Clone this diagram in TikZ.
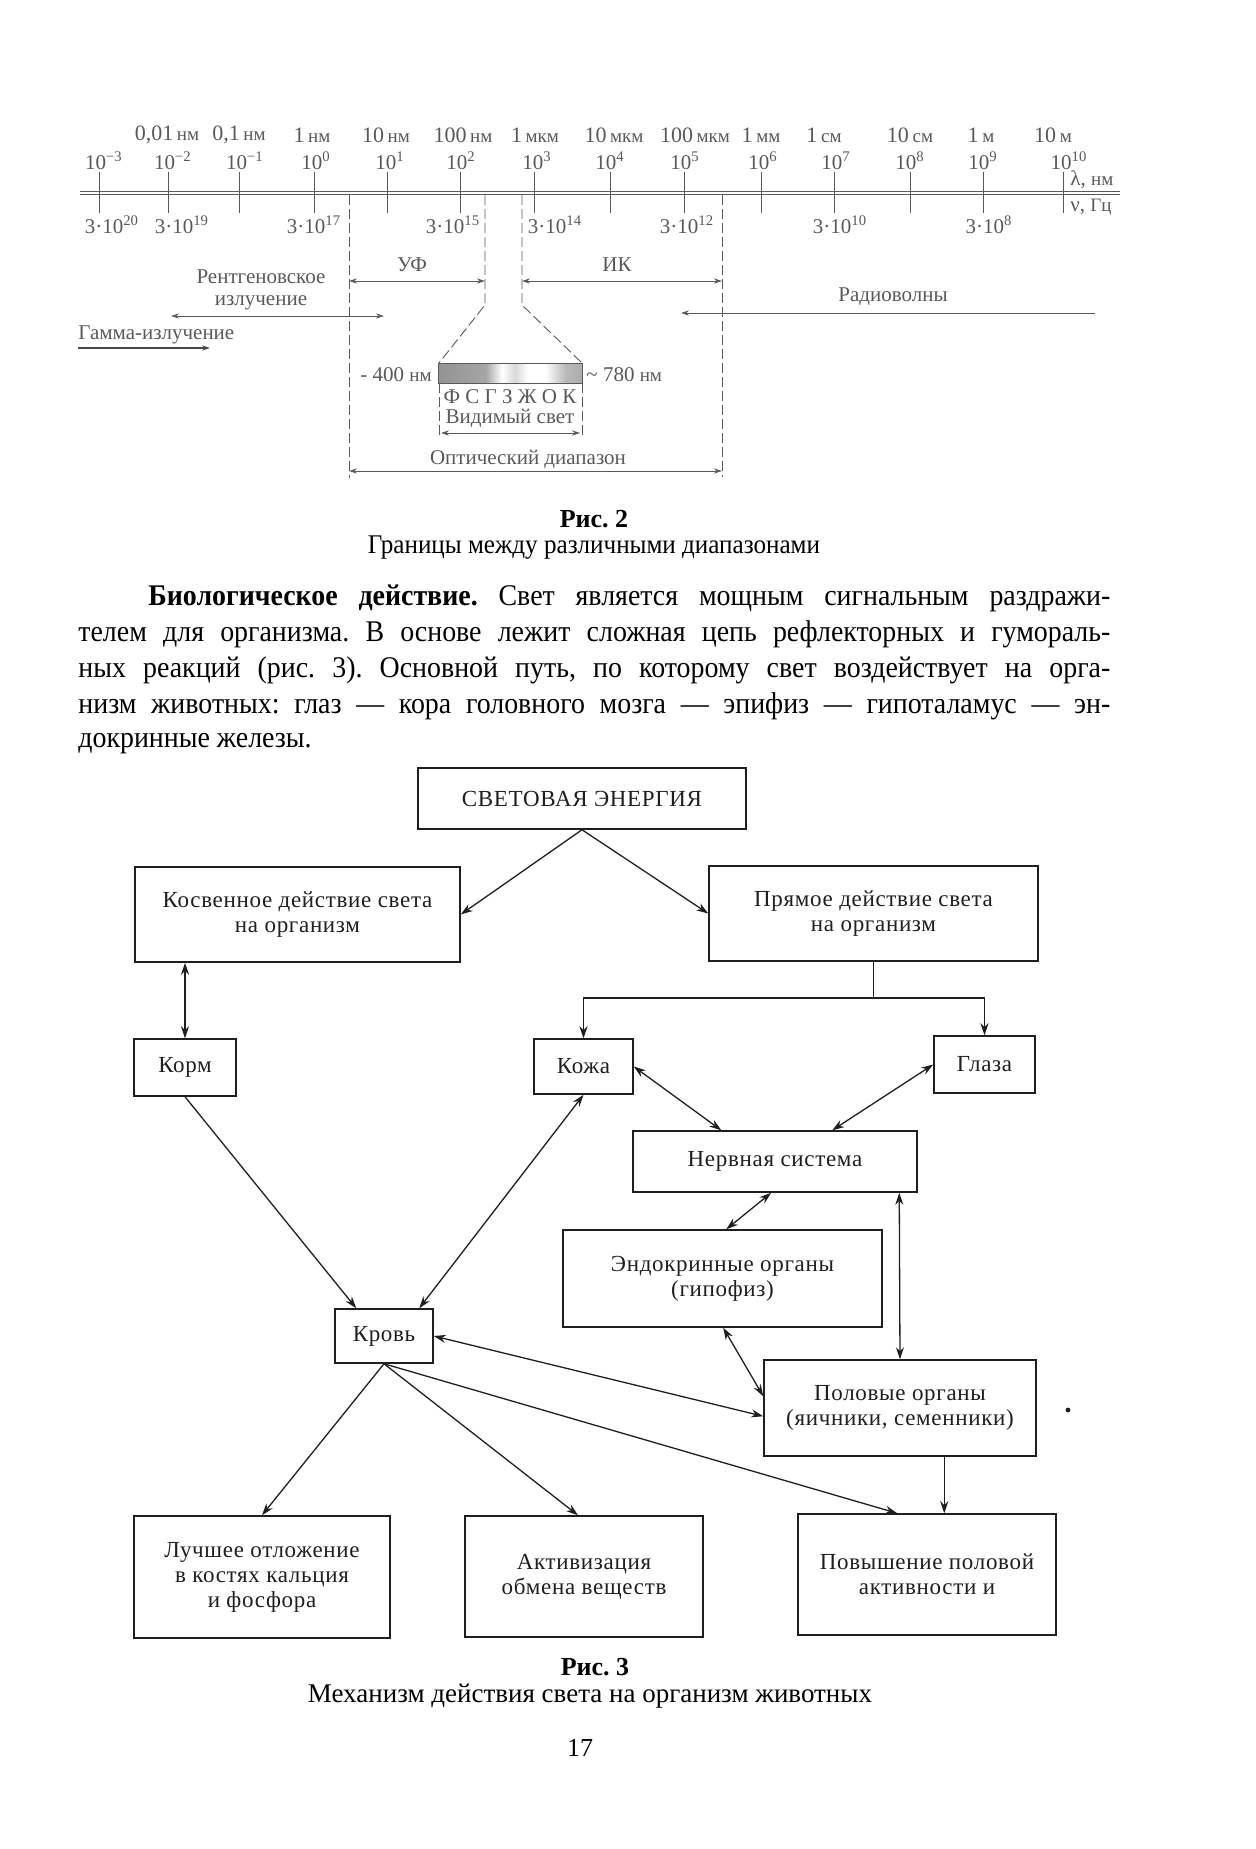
\documentclass[tikz,border=0pt]{standalone}
\usepackage{fontspec}
\setmainfont{Liberation Serif}
\newfontfamily\boxfont[LetterSpace=3]{Liberation Serif}
\newfontfamily\parafont[FakeStretch=0.93]{Liberation Serif}
\usetikzlibrary{arrows.meta,calc}
\definecolor{topgray}{gray}{0.35}
\definecolor{ink}{gray}{0.12}
\newcommand\un[1]{{\fontsize{9.5}{10}\selectfont #1}}
\frenchspacing
\begin{document}
\begin{tikzpicture}[x=0.5pt,y=-0.5pt,
  box/.style={draw=ink, line width=0.75pt, fill=white, inner sep=0pt, align=center, text=ink,
              font=\boxfont\fontsize{11.5}{12.5}\selectfont},
  arr/.style={-{Stealth[length=6pt,width=4pt]}, line width=0.65pt, draw=ink},
  darr/.style={{Stealth[length=6pt,width=4pt]}-{Stealth[length=6pt,width=4pt]}, line width=0.65pt, draw=ink},
  tlab/.style={text=topgray, font=\fontsize{10.5}{11}\selectfont, inner sep=0pt, align=center},
  tsmall/.style={text=topgray, font=\fontsize{10.5}{11}\selectfont, inner sep=0pt},
  tline/.style={draw=topgray, line width=0.45pt},
  tdash/.style={draw=topgray, line width=0.45pt, dash pattern=on 5pt off 2pt},
  tarr/.style={{Stealth[length=4pt,width=2.6pt]}-{Stealth[length=4pt,width=2.6pt]}, line width=0.45pt, draw=topgray},
  tsarr/.style={-{Stealth[length=4pt,width=2.6pt]}, line width=0.45pt, draw=topgray},
  para/.style={inner sep=0pt, text=black, font=\parafont\fontsize{15}{18}\selectfont},
  captxt/.style={inner sep=0pt, text=black}
]
\useasboundingbox (0,0) rectangle (1256,1849);

% ---------------- Figure 2: scale ----------------
\draw[topgray, double=white, double distance=1.1pt, line width=0.6pt] (80,193) -- (1120,193);
\foreach \x in {99,168,239,314,387,460,534,610,684,761,834,910,983,1063}
  \draw[tline] (\x,172) -- (\x,213);

\foreach \x/\t [count=\i] in {167/{0,01\,\un{нм}},239/{0,1\,\un{нм}},312/{1\,\un{нм}},386/{10\,\un{нм}},
   463/{100\,\un{нм}},535/{1\,\un{мкм}},614/{10\,\un{мкм}},695/{100\,\un{мкм}},761/{1\,\un{мм}},
   824/{1\,\un{см}},910/{10\,\un{см}},981/{1\,\un{м}},1053/{10\,\un{м}}}
  \node[tsmall, font=\fontsize{11}{12}\selectfont] (u\i) at (\x,135) {\t};

\foreach \x/\t [count=\i] in {104/−3,173/−2,245/−1,316/0,390/1,461/2,537/3,610/4,685/5,763/6,836/7,910/8,983/9,1069/10}
  \node[tsmall] (w\i) at (\x,161) {10\textsuperscript{\t}};

\node[tsmall, anchor=west] (lam) at (1070,180) {λ, \un{нм}};
\node[tsmall, anchor=west] (nu) at (1070,207) {ν, \un{Гц}};

\foreach \x/\t [count=\i] in {112/20,182/19,314/17,453/15,555/14,687/12,840/10,989/8}
  \node[tsmall] (f\i) at (\x,225) {3·10\textsuperscript{\t}};

% boundary dashed lines
\draw[tdash] (349,195) -- (349,478);
\draw[tdash] (722,195) -- (722,477);
\draw[tdash] (485,195) -- (485,305) -- (439,363);
\draw[tdash] (522,195) -- (522,305) -- (582,363);
\draw[tdash] (439,383) -- (439,438);
\draw[tdash] (582,383) -- (582,438);

% ranges
\node[tlab] (uf) at (412,265) {УФ};
\draw[tarr] (349,281) -- (485,281);
\node[tlab] (ik) at (617,265) {ИК};
\draw[tarr] (522,281) -- (722,281);
\node[tlab] (rg) at (261,290) {Рентгеновское\\излучение};
\draw[tarr] (171,316) -- (384,316);
\node[tlab, anchor=west] (gm) at (78,335) {Гамма-излучение};
\draw[tsarr, draw=topgray!80!black, line width=0.6pt] (78,348) -- (210,348);
\node[tlab] (rd) at (893,297) {Радиоволны};
\draw[tsarr] (1095,313) -- (681,313);

% visible spectrum
\shade[left color=gray!85, right color=gray!70] (438,363) rectangle (486,383);
\shade[left color=gray!70, right color=white] (486,363) rectangle (502,383);
\shade[left color=white, right color=gray!30] (502,363) rectangle (515,383);
\shade[left color=gray!30, right color=white] (515,363) rectangle (528,383);
\fill[white] (528,363) rectangle (545,383);
\shade[left color=white, right color=gray!55] (545,363) rectangle (566,383);
\shade[left color=gray!55, right color=gray!65] (566,363) rectangle (582,383);
\draw[topgray, line width=0.4pt] (438,363) rectangle (582,383);
\node[tlab, anchor=east] (n400) at (432,375) {- 400 \un{нм}};
\node[tlab, anchor=west] (n780) at (586,375) {\textasciitilde\ 780 \un{нм}};
\node[tlab] (fsg) at (510,397) {Ф С Г З Ж О К};
\node[tlab] (vid) at (510,418) {Видимый свет};
\draw[tarr] (441,433) -- (580,433);
\node[tlab] (opt) at (528,459) {Оптический диапазон};
\draw[tarr] (349,471) -- (722,471);

% captions fig 2
\node[captxt, font=\bfseries\fontsize{13}{14}\selectfont] (r2) at (594,519) {Рис. 2};
\node[captxt, font=\parafont\fontsize{13.5}{14}\selectfont] (r2t) at (594,548) {Границы между различными диапазонами};

% paragraph
\node[para, anchor=base west] (p1) at (148,605) {\makebox[481pt][s]{\textbf{Биологическое действие.} Свет является мощным сигнальным раздражи-}};
\node[para, anchor=base west] (p2) at (78,641) {\makebox[516pt][s]{телем для организма. В основе лежит сложная цепь рефлекторных и гумораль-}};
\node[para, anchor=base west] (p3) at (78,677) {\makebox[516pt][s]{ных реакций (рис. 3). Основной путь, по которому свет воздействует на орга-}};
\node[para, anchor=base west] (p4) at (78,713) {\makebox[516pt][s]{низм животных: глаз — кора головного мозга — эпифиз — гипоталамус — эн-}};
\node[para, anchor=base west] (p5) at (78,747) {докринные железы.};

% ---------------- Figure 3 ----------------
\node[box, minimum width=164pt, minimum height=30.5pt] (sv) at (582,798.5) {СВЕТОВАЯ ЭНЕРГИЯ};
\node[box, minimum width=162.5pt, minimum height=47.5pt] (kos) at (297.5,914.5) {Косвенное действие света\\на организм};
\node[box, minimum width=164.5pt, minimum height=47.5pt] (pry) at (873.5,913.5) {Прямое действие света\\на организм};
\node[box, minimum width=51pt, minimum height=28.5pt] (korm) at (185,1067.5) {Корм};
\node[box, minimum width=49.5pt, minimum height=27.5pt] (kozha) at (583.5,1066.5) {Кожа};
\node[box, minimum width=50.5pt, minimum height=28.5pt] (glaza) at (984.5,1064.5) {Глаза};
\node[box, minimum width=142pt, minimum height=30.5pt] (nerv) at (775,1161.5) {Нервная система};
\node[box, minimum width=159.5pt, minimum height=48.5pt] (endo) at (722.5,1278.5) {Эндокринные органы\\(гипофиз)};
\node[box, minimum width=49pt, minimum height=27pt] (krov) at (384,1336) {Кровь};
\node[box, minimum width=136pt, minimum height=48pt] (pol) at (900,1408) {Половые органы\\(яичники, семенники)};
\node[box, minimum width=128pt, minimum height=61pt] (luch) at (262,1577) {Лучшее отложение\\в костях кальция\\и фосфора};
\node[box, minimum width=119pt, minimum height=60.5pt] (akt) at (584,1576.5) {Активизация\\обмена веществ};
\node[box, minimum width=129pt, minimum height=60.5pt] (pov) at (927,1574.5) {Повышение половой\\активности и};

\draw[arr] (sv.south) -- (kos.east);
\draw[arr] (sv.south) -- (pry.west);
\draw[darr] (korm.north |- kos.south) -- (korm.north);
\coordinate (split) at (873.5,998);
\draw[ink, line width=0.65pt] (pry.south) -- (split);
\draw[arr] (split) -| (kozha.north);
\draw[arr] (split) -| (glaza.north);
\draw[darr] (kozha.east) -- ($(nerv.north west)+(89,0)$);
\draw[darr] (glaza.west) -- ($(nerv.north west)+(200,0)$);
\draw[darr] ($(endo.north west)+(164,0)$) -- ($(nerv.south west)+(139,0)$);
\draw[darr] ($(nerv.south west)+(267,0)$) -- (pol.north);
\draw[darr] ($(endo.south west)+(161,0)$) -- ($(pol.north west)+(0,37)$);
\draw[darr] (krov.east) -- ($(pol.north west)+(0,57)$);
\draw[arr] (krov.south) -- ($(pov.north west)+(100,0)$);
\draw[arr] ($(pol.south west)+(181,0)$) -- ($(pov.north west)+(147,0)$);
\draw[arr] (krov.south) -- ($(akt.north)+(-6,0)$);
\draw[arr] (krov.south) -- (luch.north);
\draw[arr] (korm.south) -- ($(krov.north west)+(22,0)$);
\draw[darr] ($(krov.north west)+(85,0)$) -- (kozha.south);

\fill[ink] (1068,1410) circle (1.2pt);

\node[captxt, font=\bfseries\fontsize{13}{14}\selectfont] (r3) at (595,1667) {Рис. 3};
\node[captxt, font=\fontsize{13.5}{14}\selectfont] (r3t) at (590,1696) {Механизм действия света на организм животных};
\node[captxt, font=\fontsize{13}{14}\selectfont] (pg) at (580,1748) {17};
\end{tikzpicture}
\end{document}
